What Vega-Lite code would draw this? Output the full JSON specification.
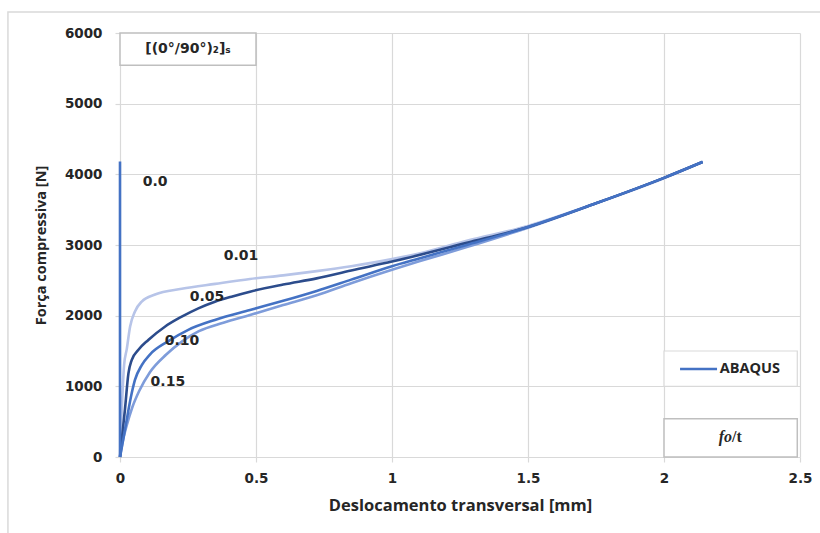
{
  "$schema": "https://vega.github.io/schema/vega-lite/v6.json",
  "width": 680,
  "height": 424,
  "autosize": {"type": "none"},
  "padding": {"left": 120, "top": 33, "right": 20, "bottom": 76},
  "background": "white",
  "config": {
    "view": {"stroke": null},
    "font": "Open Sans",
    "axis": {
      "grid": true,
      "domain": false,
      "gridColor": "#d9d9d9",
      "gridWidth": 1.2,
      "tickColor": "#d9d9d9",
      "tickSize": 5,
      "tickWidth": 1.2,
      "labelFont": "DejaVu Sans",
      "labelFontWeight": "bold",
      "labelFontSize": 13.5,
      "labelColor": "#262626",
      "titleFont": "Open Sans",
      "titleFontWeight": "bold",
      "titleFontSize": 16.5,
      "titleColor": "#262626"
    }
  },
  "datasets": {
    "curves": [
      {"s": "0.01", "i": 0, "x": 0, "F": 0},
      {"s": "0.01", "i": 1, "x": 0.015, "F": 1300},
      {"s": "0.01", "i": 2, "x": 0.025, "F": 1530},
      {"s": "0.01", "i": 3, "x": 0.037, "F": 1844},
      {"s": "0.01", "i": 4, "x": 0.055, "F": 2060},
      {"s": "0.01", "i": 5, "x": 0.08, "F": 2200},
      {"s": "0.01", "i": 6, "x": 0.129, "F": 2300},
      {"s": "0.01", "i": 7, "x": 0.227, "F": 2380},
      {"s": "0.01", "i": 8, "x": 0.35, "F": 2450},
      {"s": "0.01", "i": 9, "x": 0.478, "F": 2519},
      {"s": "0.01", "i": 10, "x": 0.6, "F": 2570},
      {"s": "0.01", "i": 11, "x": 0.723, "F": 2630},
      {"s": "0.01", "i": 12, "x": 0.85, "F": 2700},
      {"s": "0.01", "i": 13, "x": 1.0, "F": 2800},
      {"s": "0.01", "i": 14, "x": 1.1, "F": 2880},
      {"s": "0.01", "i": 15, "x": 1.275, "F": 3060},
      {"s": "0.01", "i": 16, "x": 1.5, "F": 3270},
      {"s": "0.01", "i": 17, "x": 1.75, "F": 3590},
      {"s": "0.01", "i": 18, "x": 2.0, "F": 3945},
      {"s": "0.01", "i": 19, "x": 2.142, "F": 4175},

      {"s": "0.15", "i": 0, "x": 0, "F": 0},
      {"s": "0.15", "i": 1, "x": 0.01, "F": 220},
      {"s": "0.15", "i": 2, "x": 0.025, "F": 450},
      {"s": "0.15", "i": 3, "x": 0.045, "F": 700},
      {"s": "0.15", "i": 4, "x": 0.07, "F": 930},
      {"s": "0.15", "i": 5, "x": 0.11, "F": 1200},
      {"s": "0.15", "i": 6, "x": 0.17, "F": 1450},
      {"s": "0.15", "i": 7, "x": 0.23, "F": 1640},
      {"s": "0.15", "i": 8, "x": 0.29, "F": 1780},
      {"s": "0.15", "i": 9, "x": 0.38, "F": 1900},
      {"s": "0.15", "i": 10, "x": 0.478, "F": 2010},
      {"s": "0.15", "i": 11, "x": 0.6, "F": 2150},
      {"s": "0.15", "i": 12, "x": 0.723, "F": 2290},
      {"s": "0.15", "i": 13, "x": 0.85, "F": 2460},
      {"s": "0.15", "i": 14, "x": 1.0, "F": 2650},
      {"s": "0.15", "i": 15, "x": 1.1, "F": 2770},
      {"s": "0.15", "i": 16, "x": 1.275, "F": 2970},
      {"s": "0.15", "i": 17, "x": 1.5, "F": 3245},
      {"s": "0.15", "i": 18, "x": 1.75, "F": 3590},
      {"s": "0.15", "i": 19, "x": 2.0, "F": 3950},
      {"s": "0.15", "i": 20, "x": 2.142, "F": 4175},

      {"s": "0.05", "i": 0, "x": 0, "F": 0},
      {"s": "0.05", "i": 1, "x": 0.008, "F": 300},
      {"s": "0.05", "i": 2, "x": 0.018, "F": 665},
      {"s": "0.05", "i": 3, "x": 0.031, "F": 1184},
      {"s": "0.05", "i": 4, "x": 0.043, "F": 1372},
      {"s": "0.05", "i": 5, "x": 0.067, "F": 1514},
      {"s": "0.05", "i": 6, "x": 0.104, "F": 1656},
      {"s": "0.05", "i": 7, "x": 0.165, "F": 1844},
      {"s": "0.05", "i": 8, "x": 0.227, "F": 1986},
      {"s": "0.05", "i": 9, "x": 0.288, "F": 2104},
      {"s": "0.05", "i": 10, "x": 0.349, "F": 2198},
      {"s": "0.05", "i": 11, "x": 0.41, "F": 2269},
      {"s": "0.05", "i": 12, "x": 0.478, "F": 2340},
      {"s": "0.05", "i": 13, "x": 0.6, "F": 2440},
      {"s": "0.05", "i": 14, "x": 0.723, "F": 2528},
      {"s": "0.05", "i": 15, "x": 0.85, "F": 2640},
      {"s": "0.05", "i": 16, "x": 1.0, "F": 2765},
      {"s": "0.05", "i": 17, "x": 1.275, "F": 3030},
      {"s": "0.05", "i": 18, "x": 1.5, "F": 3255},
      {"s": "0.05", "i": 19, "x": 1.75, "F": 3590},
      {"s": "0.05", "i": 20, "x": 2.0, "F": 3950},
      {"s": "0.05", "i": 21, "x": 2.142, "F": 4175},

      {"s": "0.10", "i": 0, "x": 0, "F": 0},
      {"s": "0.10", "i": 1, "x": 0.012, "F": 250},
      {"s": "0.10", "i": 2, "x": 0.0245, "F": 524},
      {"s": "0.10", "i": 3, "x": 0.043, "F": 901},
      {"s": "0.10", "i": 4, "x": 0.055, "F": 1090},
      {"s": "0.10", "i": 5, "x": 0.08, "F": 1300},
      {"s": "0.10", "i": 6, "x": 0.11, "F": 1450},
      {"s": "0.10", "i": 7, "x": 0.178, "F": 1640},
      {"s": "0.10", "i": 8, "x": 0.251, "F": 1800},
      {"s": "0.10", "i": 9, "x": 0.349, "F": 1940},
      {"s": "0.10", "i": 10, "x": 0.478, "F": 2080},
      {"s": "0.10", "i": 11, "x": 0.6, "F": 2210},
      {"s": "0.10", "i": 12, "x": 0.723, "F": 2350},
      {"s": "0.10", "i": 13, "x": 0.85, "F": 2510},
      {"s": "0.10", "i": 14, "x": 1.0, "F": 2700},
      {"s": "0.10", "i": 15, "x": 1.1, "F": 2810},
      {"s": "0.10", "i": 16, "x": 1.275, "F": 3000},
      {"s": "0.10", "i": 17, "x": 1.5, "F": 3255},
      {"s": "0.10", "i": 18, "x": 1.75, "F": 3590},
      {"s": "0.10", "i": 19, "x": 2.0, "F": 3950},
      {"s": "0.10", "i": 20, "x": 2.142, "F": 4175},

      {"s": "0.0", "i": 0, "x": 0, "F": 0},
      {"s": "0.0", "i": 1, "x": 0, "F": 4180}
    ],
    "labels": [
      {"t": "0.0", "x": 0.129, "F": 3892},
      {"t": "0.01", "x": 0.445, "F": 2844},
      {"t": "0.05", "x": 0.32, "F": 2264},
      {"t": "0.10", "x": 0.228, "F": 1642},
      {"t": "0.15", "x": 0.176, "F": 1061}
    ],
    "boxes": [
      {"x1": 0, "x2": 0.5, "F1": 5545, "F2": 6000},
      {"x1": 2.0, "x2": 2.49, "F1": 0, "F2": 540}
    ],
    "legendbox": [
      {"x1": 2.0, "x2": 2.49, "F1": 1000, "F2": 1500}
    ],
    "legendline": [
      {"x1": 2.059, "x2": 2.195, "F": 1245}
    ],
    "legendtext": [
      {"t": "ABAQUS", "x": 2.205, "F": 1245}
    ],
    "boxtext": [
      {"t": "[(0°/90°)₂]ₛ", "x": 0.25, "F": 5772}
    ],
    "fo": [
      {"a": "fo", "b": "/t", "x": 2.25, "F": 283}
    ]
  },
  "layer": [
    {
      "data": {"name": "curves"},
      "mark": {"type": "line", "strokeWidth": 2.6, "interpolate": "monotone"},
      "encoding": {
        "x": {
          "field": "x", "type": "quantitative",
          "scale": {"domain": [0, 2.5], "nice": false, "zero": false},
          "axis": {"grid": true, "values": [0, 0.5, 1, 1.5, 2, 2.5], "format": "~g", "title": "Deslocamento transversal [mm]", "labelPadding": 9, "titlePadding": 13, "labelFlush": false}
        },
        "y": {
          "field": "F", "type": "quantitative",
          "scale": {"domain": [0, 6000], "nice": false},
          "axis": {"grid": true, "values": [0, 500, 1000, 1500, 2000, 2500, 3000, 3500, 4000, 4500, 5000, 5500, 6000], "labelExpr": "datum.value % 1000 === 0 ? datum.value : ''", "title": "Força compressiva [N]", "labelPadding": 13, "titlePadding": 16, "titleFontSize": 14.5}
        },
        "color": {
          "field": "s", "type": "nominal", "legend": null,
          "scale": {"domain": ["0.01", "0.15", "0.05", "0.10", "0.0"], "range": ["#b7c4e8", "#7e9cda", "#2c4c8c", "#4472c4", "#4472c4"]}
        },
        "order": {"field": "i", "type": "quantitative"}
      }
    },
    {
      "data": {"name": "labels"},
      "mark": {"type": "text", "fontWeight": "bold", "fontSize": 14, "color": "#262626", "font": "DejaVu Sans"},
      "encoding": {
        "x": {"field": "x", "type": "quantitative"},
        "y": {"field": "F", "type": "quantitative"},
        "text": {"field": "t"}
      }
    },
    {
      "data": {"name": "boxes"},
      "mark": {"type": "rect", "fill": "white", "stroke": "#bfbfbf", "strokeWidth": 1.5},
      "encoding": {
        "x": {"field": "x1", "type": "quantitative"},
        "x2": {"field": "x2"},
        "y": {"field": "F1", "type": "quantitative"},
        "y2": {"field": "F2"}
      }
    },
    {
      "data": {"name": "legendbox"},
      "mark": {"type": "rect", "fill": "white", "stroke": "#d9d9d9", "strokeWidth": 1.2},
      "encoding": {
        "x": {"field": "x1", "type": "quantitative"},
        "x2": {"field": "x2"},
        "y": {"field": "F1", "type": "quantitative"},
        "y2": {"field": "F2"}
      }
    },
    {
      "data": {"name": "legendline"},
      "mark": {"type": "rule", "color": "#4472c4", "strokeWidth": 2.6},
      "encoding": {
        "x": {"field": "x1", "type": "quantitative"},
        "x2": {"field": "x2"},
        "y": {"field": "F", "type": "quantitative"}
      }
    },
    {
      "data": {"name": "legendtext"},
      "mark": {"type": "text", "align": "left", "fontWeight": "bold", "fontSize": 14.5, "color": "#262626", "font": "Open Sans"},
      "encoding": {
        "x": {"field": "x", "type": "quantitative"},
        "y": {"field": "F", "type": "quantitative"},
        "text": {"field": "t"}
      }
    },
    {
      "data": {"name": "boxtext"},
      "mark": {"type": "text", "fontWeight": "bold", "fontSize": 14, "color": "#262626", "font": "DejaVu Sans"},
      "encoding": {
        "x": {"field": "x", "type": "quantitative"},
        "y": {"field": "F", "type": "quantitative"},
        "text": {"field": "t"}
      }
    },
    {
      "data": {"name": "fo"},
      "mark": {"type": "text", "align": "right", "fontWeight": "bold", "fontStyle": "italic", "fontSize": 16, "color": "#262626", "font": "Liberation Serif"},
      "encoding": {
        "x": {"field": "x", "type": "quantitative"},
        "y": {"field": "F", "type": "quantitative"},
        "text": {"field": "a"}
      }
    },
    {
      "data": {"name": "fo"},
      "mark": {"type": "text", "align": "left", "fontWeight": "bold", "fontSize": 16, "color": "#262626", "font": "Liberation Serif"},
      "encoding": {
        "x": {"field": "x", "type": "quantitative"},
        "y": {"field": "F", "type": "quantitative"},
        "text": {"field": "b"}
      }
    },
    {
      "data": {"values": [{}]},
      "mark": {"type": "rect", "fill": null, "stroke": "#d9d9d9", "strokeWidth": 1.5, "clip": false},
      "encoding": {
        "x": {"datum": -0.412, "type": "quantitative"},
        "x2": {"datum": 2.6},
        "y": {"datum": 6297, "type": "quantitative"},
        "y2": {"datum": -1500}
      }
    }
  ]
}
